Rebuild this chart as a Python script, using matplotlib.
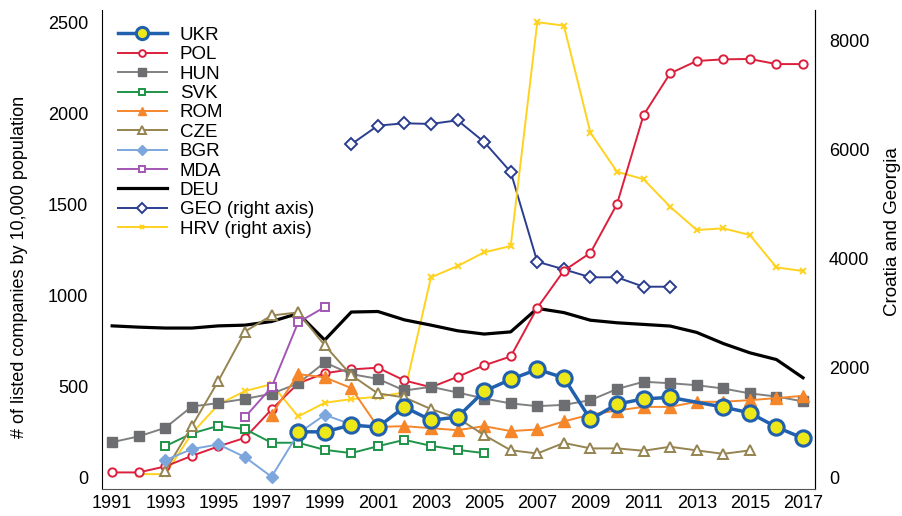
import matplotlib
matplotlib.use("Agg")
import matplotlib.pyplot as plt
import numpy as np

plt.rcParams['font.family'] = ['Liberation Sans', 'DejaVu Sans']

# datos (eje izquierdo: empresas por 10.000 hab.)
ukr_anios = [1998, 1999, 2000, 2001, 2002, 2003, 2004, 2005, 2006, 2007, 2008,
             2009, 2010, 2011, 2012, 2014, 2015, 2016, 2017]
ukr = [249, 249, 286, 275, 385, 313, 330, 472, 537, 592, 546,
       317, 401, 430, 438, 385, 353, 275, 214]

pol_anios = list(range(1991, 2018))
pol = [26, 26, 59, 117, 169, 216, 372, 515, 571, 592, 601, 531, 494, 551,
       614, 663, 930, 1134, 1232, 1500, 1989, 2218, 2286, 2295, 2297, 2269, 2269]

hun_anios = list(range(1991, 2018))
hun = [192, 224, 271, 388, 407, 430, 458, 515, 630, 566, 540, 476, 496, 465,
       432, 405, 390, 397, 423, 484, 524, 516, 505, 487, 460, 443, 416]

svk_anios = list(range(1993, 2006))
svk = [170, 240, 282, 264, 189, 189, 150, 132, 170, 205, 172, 150, 132]

rom_anios = list(range(1997, 2018))
rom = [342, 566, 548, 489, 276, 280, 269, 258, 280, 253, 262, 306, 344, 366,
       386, 386, 414, 414, 423, 434, 447]

cze_anios = list(range(1993, 2016))
cze = [35, 280, 529, 800, 888, 905, 724, 560, 460, 438, 374, 325, 231, 148,
       130, 188, 158, 158, 145, 167, 147, 128, 147]

bgr_anios = list(range(1993, 2001))
bgr = [93, 154, 180, 110, 2, 240, 342, 290]

mda_anios = [1996, 1997, 1998, 1999]
mda = [330, 494, 850, 934]

deu_anios = list(range(1991, 2018))
deu = [831, 824, 819, 819, 831, 835, 855, 899, 753, 907, 910, 864, 835, 804,
       786, 798, 927, 904, 862, 848, 839, 830, 795, 734, 683, 646, 546]

# eje derecho: Croacia y Georgia
geo_anios = list(range(2000, 2013))
geo = [6092, 6433, 6476, 6464, 6531, 6134, 5585, 3943, 3803, 3657, 3657, 3485, 3485]

hrv_anios = list(range(1992, 2018))
hrv = [55, 55, 800, 1331, 1575, 1703, 1111, 1361, 1428, 1471, 1551, 3657, 3863,
       4114, 4230, 8325, 8264, 6304, 5590, 5451, 4949, 4523, 4553, 4431, 3839, 3772]

fig = plt.figure(figsize=(9.03, 5.16), dpi=100)
ax = fig.add_axes([0.113, 0.052, 0.7895, 0.9286])
ax2 = ax.twinx()
ax.set_zorder(ax2.get_zorder() + 1)
ax.patch.set_visible(False)

geo_l, = ax2.plot(geo_anios, geo, color='#2b3d8f', lw=1.4, marker='D', ms=6,
                  mfc='white', mec='#2b3d8f', mew=1.4, label='GEO (right axis)')
hrv_l, = ax2.plot(hrv_anios, hrv, color='#ffd21f', lw=1.4, marker='x', ms=4,
                  mew=1.4, label='HRV (right axis)')

ax.plot(deu_anios, deu, color='black', lw=2.3, label='DEU', zorder=3)
ax.plot(pol_anios, pol, color='#dc1f3c', lw=1.4, marker='o', ms=6,
        mfc='white', mec='#dc1f3c', mew=1.4, label='POL', zorder=4)
ax.plot(hun_anios, hun, color='#808080', lw=1.4, marker='s', ms=7,
        mfc='#6d6e71', mec='#6d6e71', label='HUN', zorder=4)
ax.plot(svk_anios, svk, color='#1d9448', lw=1.4, marker='s', ms=6,
        mfc='white', mec='#1d9448', mew=1.4, label='SVK', zorder=4)
ax.plot(rom_anios, rom, color='#f5862a', lw=1.4, marker='^', ms=8,
        mfc='#f5862a', mec='#f5862a', label='ROM', zorder=4)
ax.plot(cze_anios, cze, color='#958451', lw=1.4, marker='^', ms=7,
        mfc='white', mec='#958451', mew=1.4, label='CZE', zorder=4)
ax.plot(bgr_anios, bgr, color='#7ca6dc', lw=1.4, marker='D', ms=6,
        mfc='#7ca6dc', mec='#7ca6dc', label='BGR', zorder=4)
ax.plot(mda_anios, mda, color='#a356b4', lw=1.4, marker='s', ms=6,
        mfc='white', mec='#a356b4', mew=1.4, label='MDA', zorder=4)
ax.plot(ukr_anios, ukr, color='#2160ad', lw=2.5, marker='o', ms=11,
        mfc='#ece81a', mec='#2160ad', mew=2.2, label='UKR', zorder=5)

ax.set_xlim(1990.62, 2017.45)
ax.set_ylim(-66, 2566)
ax2.set_ylim(-220, 8549)

ax.set_xticks(range(1991, 2018, 2))
ax.set_yticks([0, 500, 1000, 1500, 2000, 2500])
ax2.set_yticks([0, 2000, 4000, 6000, 8000])
for a in (ax, ax2):
    a.tick_params(length=0, labelsize=13, pad=10)
ax.tick_params(axis='x', pad=4)

ax.spines['top'].set_visible(False)
ax2.spines['top'].set_visible(False)
ax.spines['left'].set_color('black')
ax2.spines['right'].set_color('#555555')
ax.spines['bottom'].set_color('#555555')
ax2.spines['bottom'].set_visible(False)
ax2.spines['left'].set_visible(False)

ax.set_ylabel('# of listed companies by 10,000 population', fontsize=13)
ax.yaxis.set_label_coords(-0.104, 0.463)
ax2.set_ylabel('Croatia and Georgia', fontsize=13.5)
ax2.yaxis.set_label_coords(1.097, 0.537)

handles, labels = ax.get_legend_handles_labels()
orden = ['UKR', 'POL', 'HUN', 'SVK', 'ROM', 'CZE', 'BGR', 'MDA', 'DEU']
h_dict = dict(zip(labels, handles))
hs = [h_dict[k] for k in orden] + [geo_l, hrv_l]
ls = orden + ['GEO (right axis)', 'HRV (right axis)']
ax.legend(hs, ls, loc='upper left', bbox_to_anchor=(-0.004, 1.004), frameon=False,
          fontsize=13.5, handlelength=2.6, handletextpad=0.7, labelspacing=0.12,
          borderaxespad=0.6, markerscale=0.8)

fig.savefig('out.png', dpi=100)
